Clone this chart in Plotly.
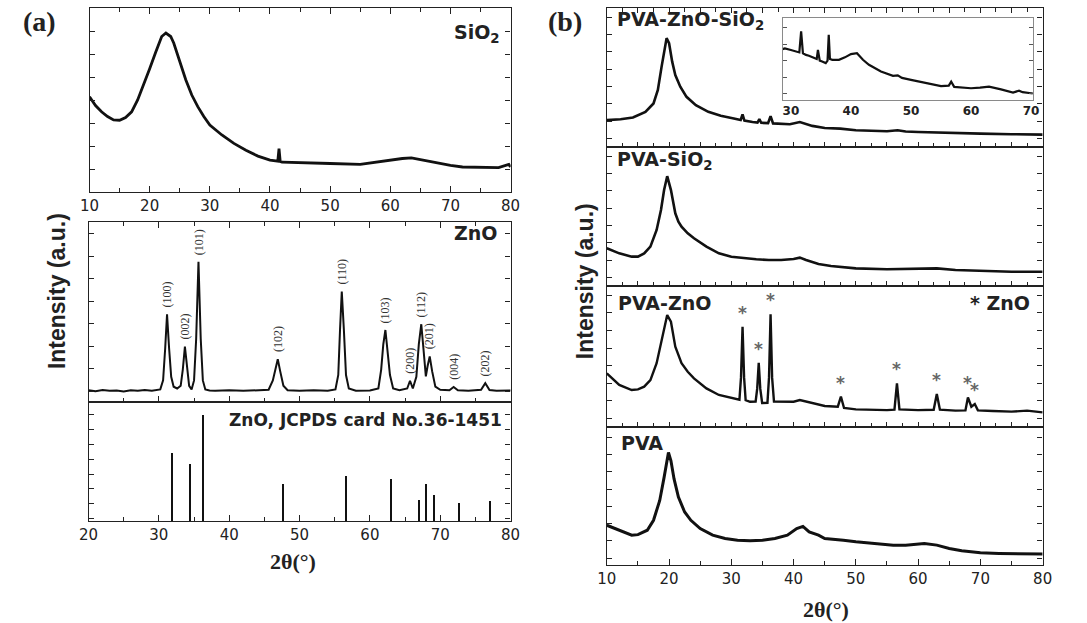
import plotly.graph_objects as go

W, H = 1087, 623

# ---------------- panel (a): SiO2 ----------------
sio2_x = [10, 11, 12, 13, 14, 15, 16, 17, 18, 19, 20, 21, 22, 22.7, 23.5, 24, 25, 26, 27, 28,
          29, 30, 32, 34, 36, 38, 40, 41.3, 41.5, 41.7, 42, 45, 50, 55, 58, 60, 62, 63.5, 65, 67,
          70, 72, 75, 78, 79.7, 80]
sio2_y = [51.8, 47, 43.6, 41, 39.2, 39, 40.5, 43.6, 50, 58, 67, 76, 84.5, 86.4, 84.5, 81, 71, 61, 52.7, 46.4,
          41, 36.4, 31, 26.4, 22.7, 19.5, 17.3, 16.8, 23.6, 16.6, 16.2, 15.8, 15.5, 15, 16.4, 17.3, 18.2, 18.5, 17.6, 16,
          14.5, 13.6, 13.3, 13.3, 15, 13.6]

# ---------------- panel (a): ZnO ----------------
zno_x = [20, 21, 22, 23, 24, 25, 26, 27, 28, 29, 30.2, 30.6, 30.9, 31.16, 31.45, 31.75, 32.1, 32.6, 33.1, 33.4,
         33.7, 34.0, 34.3, 34.65, 35.0, 35.3, 35.63, 35.95, 36.25, 36.6, 37.2, 38, 40, 42, 44, 45.6, 46.2, 46.6, 46.9, 47.25,
         47.7, 48.3, 50, 52, 54, 55.1, 55.5, 55.75, 56.0, 56.3, 56.6, 57.0, 58, 60, 61.2, 61.6, 61.9, 62.2, 62.5, 62.85,
         63.3, 64.2, 65.3, 65.7, 66.1, 66.6, 66.95, 67.3, 67.6, 67.95, 68.2, 68.5, 68.85, 69.3, 70, 71.3, 71.9, 72.5, 74, 75.8,
         76.4, 77.0, 78, 80]
zno_y = [6.5, 6.0, 6.6, 6.2, 6.4, 5.9, 6.5, 6.2, 6.6, 6.3, 7.0, 12, 30, 48.7, 30, 14, 8.5, 7.5, 9, 18,
         30.8, 18, 9, 7.0, 12, 35, 77.9, 35, 12, 7.0, 6.4, 6.2, 6.5, 6.2, 6.6, 6.8, 12, 19, 23.8, 17,
         9, 6.5, 6.3, 6.5, 6.2, 7.0, 15, 40, 61.3, 40, 15, 7.5, 6.3, 6.4, 7.5, 18, 32, 40, 30, 15,
         7.5, 6.5, 7.5, 11.8, 7.5, 14, 32, 43.2, 30, 14.2, 20, 25.3, 17, 8.5, 6.8, 6.5, 8.3, 6.5, 6.3, 6.8,
         10.5, 6.7, 6.3, 6.4]
zno_hkl = ["(100)", "(002)", "(101)", "(102)", "(110)", "(103)", "(200)", "(112)", "(201)", "(004)", "(202)"]
zno_hkl_x = [31.16, 33.7, 35.63, 46.9, 56.0, 62.2, 65.7, 67.3, 68.5, 71.9, 76.4]

# ---------------- panel (a): JCPDS 36-1451 reference lines ----------------
jcpds_x = [31.8, 34.4, 36.3, 47.6, 56.6, 62.9, 66.9, 68.0, 69.1, 72.6, 77.0]
jcpds_i = [56.8, 47.5, 89, 31.4, 38, 35.6, 17.8, 31.4, 22, 15.3, 17]

# ---------------- panel (b) ----------------
pzs_x = [10, 12.2, 14.2, 16.2, 17.5, 18.2, 18.8, 19.3, 19.6, 20.0, 20.5, 21.0, 21.8, 22.8, 24.3, 26.3, 28.3, 30.4, 31.5, 31.8,
         32.1, 33.4, 34.2, 34.5, 34.8, 35.9, 36.3, 36.7, 37.4, 39.4, 41, 43, 45, 47.5, 50, 55, 56.7, 58, 60, 63,
         65, 70, 75, 80]
pzs_y = [19.3, 20, 21.2, 25.3, 31.3, 41, 57.8, 72.3, 78.3, 74.7, 61.4, 51.8, 43.4, 36.1, 30.1, 25.3, 22.4, 20.5, 19.5, 23.5,
         19, 18, 17.6, 20, 17.4, 17.2, 22.2, 17, 16.9, 16.4, 18, 15.2, 13.7, 13.2, 12, 11.3, 12.0, 11.1, 10.8, 10.6,
         10.1, 9.6, 9.2, 8.9]

inset_x = [28.6, 29, 30, 31, 31.4, 31.7, 32.0, 32.5, 33, 34, 34.3, 34.5, 34.8, 35.2, 35.8, 36.1, 36.3, 36.5, 36.9, 38,
           39, 40, 41, 42, 43, 45, 47, 47.8, 48.5, 50, 52, 55, 56.3, 56.7, 57.2, 58, 60, 61.5, 63, 65,
           67, 68, 68.6, 70, 70.3]
inset_y = [62, 63, 61, 59, 58, 83.7, 57, 55, 54, 51, 50, 61, 48, 47, 45, 48, 79.6, 50, 49, 49,
           52, 56, 57, 49, 43, 34.7, 29.4, 30, 27, 24.5, 21.6, 17, 17.5, 22.4, 16, 15.5, 14.3, 15, 16.3, 13,
           9, 11.4, 9.5, 8.2, 8.0]

ps_x = [10, 12, 14, 15, 16, 17, 18, 18.7, 19.2, 19.7, 20.3, 21, 21.5, 22, 23, 24, 26, 28, 30, 32,
        34, 36, 38, 40, 41, 42, 44, 46, 50, 55, 60, 63, 66, 70, 75, 80]
ps_y = [27.1, 23.5, 21.1, 21.1, 23.5, 28.3, 40.3, 54.7, 69, 79, 69, 52.3, 46.3, 42.7, 37.9, 34.3, 28.3, 23.5, 21.1, 19.9,
        19.2, 18.7, 18.7, 19.4, 20.4, 18.7, 15.8, 14.4, 12.7, 12, 12.5, 12.7, 11.5, 10.8, 10.3, 10.3]

pz_x = [10, 12, 14, 15, 16, 17, 18, 19, 19.7, 20.3, 21, 22, 23, 24, 26, 28, 30, 31.3, 31.55, 31.8,
        32.05, 32.3, 33.0, 33.9, 34.15, 34.4, 34.65, 34.95, 35.8, 36.05, 36.3, 36.55, 36.85, 38, 40, 41, 43, 45, 47.1, 47.6,
        48.1, 50, 55, 56.2, 56.6, 57.0, 60, 62.5, 63.0, 63.5, 66, 67.6, 68.0, 68.55, 69.1, 69.6, 72, 75, 77.5, 80]
pz_y = [38, 29.8, 26.2, 26.7, 28.6, 33.3, 45.2, 66.5, 79.4, 74.7, 57, 45.2, 39.2, 34.5, 27.4, 22.7, 20.4, 19.3, 35, 71.1,
        35, 19, 17.9, 18, 27, 45.6, 27, 17, 17.2, 35, 79.9, 35, 18, 17.9, 17.9, 19.1, 16.8, 14.9, 14.4, 21.5,
        13.5, 12.5, 12, 12.3, 31, 12.5, 12, 12.2, 23.4, 12.3, 11.6, 11.8, 21, 14.4, 16.3, 11.8, 11.3, 10.9, 11.6, 10.4]
pz_star_x = [31.8, 34.4, 36.3, 47.6, 56.6, 63.0, 68.0, 69.1]

pva_x = [10, 11, 12.5, 14, 15, 16.5, 17.5, 18.5, 19.2, 19.6, 19.9, 20.3, 20.8, 21.5, 22.5, 23.5, 25, 27, 29, 31,
         33, 35, 37, 39, 40.5, 41.5, 42.5, 44, 45, 48, 50, 53, 56, 58, 61, 63, 65, 67, 70, 73,
         76, 78, 80]
pva_y = [28.8, 27, 24.5, 21.6, 22, 25.2, 32.4, 46.8, 63.5, 75.5, 81.5, 75.5, 62.4, 49.2, 38.4, 32.4, 26.4, 21.6, 19.2, 18,
         17.5, 18, 19.2, 21.6, 26.4, 28, 24, 21.6, 19.2, 18, 16.8, 15.6, 14.4, 14.4, 15.6, 14.4, 12, 10.3, 8.9, 8.4,
         8.4, 8.4, 7.9]

# ---------------- styling ----------------
LC = "#222222"
CURVE = "#111111"
SANS = "DejaVu Sans"
SERIF = "Liberation Serif"


def xdom(a, b):
    return [a / W, b / W]


def ydom(top, bot):
    return [1 - bot / H, 1 - top / H]


def P(px, py):
    return px / W, 1 - py / H


def xaxis(dom, rng, anchor, mirror, labels, dtick, mdtick, tlen=6):
    return dict(domain=dom, range=rng, anchor=anchor, showline=True, linecolor=LC, linewidth=1.4,
                mirror=mirror, showgrid=False, zeroline=False, ticks="inside", ticklen=tlen,
                tickwidth=1.3, tickcolor=LC, dtick=dtick, tick0=0, showticklabels=labels,
                tickfont=dict(family=SANS, size=15, color=LC),
                minor=dict(ticks="inside", dtick=mdtick, ticklen=3.5, tickwidth=1.2, tickcolor=LC))


def yaxis(dom, anchor, tick0):
    return dict(domain=dom, range=[0, 100], anchor=anchor, showline=True, linecolor=LC, linewidth=1.4,
                mirror="ticks", showgrid=False, zeroline=False, ticks="inside", ticklen=5,
                tickwidth=1.3, tickcolor=LC, tick0=tick0, dtick=12.5, showticklabels=False)


fig = go.Figure()


def line(x, y, ax, width=2.0):
    fig.add_trace(go.Scatter(x=x, y=y, mode="lines", xaxis="x" + ax, yaxis="y" + ax,
                             line=dict(color=CURVE, width=width), hoverinfo="skip"))


line(sio2_x, sio2_y, "", 2.8)
line(zno_x, zno_y, "2", 2.0)
fig.add_trace(go.Bar(x=jcpds_x, y=jcpds_i, width=0.22, xaxis="x3", yaxis="y3",
                     marker=dict(color=CURVE, line=dict(width=0)), hoverinfo="skip"))
line(pzs_x, pzs_y, "4", 2.6)
line(ps_x, ps_y, "5", 2.6)
line(pz_x, pz_y, "6", 2.4)
line(pva_x, pva_y, "7", 3.0)
line(inset_x, inset_y, "8", 2.2)

layout = dict(
    width=W, height=H, margin=dict(l=0, r=0, t=0, b=0),
    paper_bgcolor="white", plot_bgcolor="white", showlegend=False, bargap=0,
    xaxis=xaxis(xdom(81, 510), [10, 80], "y", "ticks", True, 10, 5),
    yaxis=yaxis(ydom(8, 192), "x", 0),
    xaxis2=xaxis(xdom(80, 510), [20, 80], "y2", "ticks", False, 10, 5),
    yaxis2=yaxis(ydom(222, 402), "x2", 6),
    xaxis3=xaxis(xdom(80, 510), [20, 80], "y3", True, True, 10, 5),
    yaxis3=yaxis(ydom(402, 521), "x3", 2),
    xaxis4=xaxis(xdom(608, 1052), [10, 80], "y4", "ticks", False, 5, 2.5, 5),
    yaxis4=yaxis(ydom(8, 147), "x4", 6),
    xaxis5=xaxis(xdom(608, 1052), [10, 80], "y5", True, False, 5, 2.5, 5),
    yaxis5=yaxis(ydom(147, 286), "x5", 6),
    xaxis6=xaxis(xdom(608, 1052), [10, 80], "y6", True, False, 5, 2.5, 5),
    yaxis6=yaxis(ydom(286, 427), "x6", 6),
    xaxis7=xaxis(xdom(608, 1052), [10, 80], "y7", True, True, 10, 5),
    yaxis7=yaxis(ydom(427, 565), "x7", 5),
    xaxis8=dict(domain=xdom(787, 1042), range=[28.6, 70.3], anchor="y8", showline=True,
                linecolor="#8a8a8a", linewidth=1, mirror=True, showgrid=False, zeroline=False,
                ticks="", dtick=10, tick0=0,
                tickfont=dict(family=SANS, size=12, color=LC, weight="bold")),
    yaxis8=dict(domain=ydom(18, 100), range=[0, 100], anchor="x8", showline=True,
                linecolor="#8a8a8a", linewidth=1, mirror="ticks", showgrid=False, zeroline=False,
                ticks="inside", ticklen=4, tickwidth=1, tickcolor="#555", tick0=8, dtick=20,
                showticklabels=False),
)
fig.update_layout(**layout)

ann = []


def text(px, py, s, size, family=SANS, bold=True, xanchor="center", color=LC, angle=0):
    x, y = P(px, py)
    ann.append(dict(x=x, y=y, xref="paper", yref="paper", text=s, showarrow=False,
                    xanchor=xanchor, yanchor="middle", textangle=angle,
                    font=dict(family=family, size=size, color=color,
                              weight="bold" if bold else "normal")))


# panel letters
text(30, 22, "(a)", 28, SERIF)
text(565, 22, "(b)", 28, SERIF)

# panel (a) labels
text(501, 33, "SiO<sub>2</sub>", 19, xanchor="right")
text(498, 233, "ZnO", 19, xanchor="right")
text(503, 420, "ZnO, JCPDS card No.36-1451", 17, xanchor="right")
text(48, 291, "Intensity (a.u.)", 23, "Liberation Sans", angle=-90)
text(288, 561, "2θ(°)", 22, SERIF)

# panel (b) labels
text(616, 21, "PVA-ZnO-SiO<sub>2</sub>", 19, xanchor="left")
text(616, 161, "PVA-SiO<sub>2</sub>", 19, xanchor="left")
text(617, 303, "PVA-ZnO", 19, xanchor="left")
text(1041, 303, "* ZnO", 19, xanchor="right")
text(620, 443, "PVA", 19, xanchor="left")
text(586, 281, "Intensity (a.u.)", 23, "Liberation Sans", angle=-90)
text(831, 609, "2θ(°)", 22, SERIF)

# Miller indices above the ZnO reflections
for hkl, hx in zip(zno_hkl, zno_hkl_x):
    hy = zno_y[zno_x.index(hx)]
    ann.append(dict(x=hx, y=hy, xref="x2", yref="y2", text=hkl, showarrow=False,
                    textangle=-90, xanchor="center", yanchor="middle", yshift=20,
                    font=dict(family=SERIF, size=12, color="#333")))

# asterisks marking ZnO reflections in PVA-ZnO
for sx in pz_star_x:
    sy = pz_y[pz_x.index(sx)]
    ann.append(dict(x=sx, y=sy, xref="x6", yref="y6", text="*", showarrow=False,
                    xanchor="center", yanchor="middle", yshift=14,
                    font=dict(family=SANS, size=17, color="#666666", weight="bold")))

fig.update_layout(annotations=ann)
fig.write_html("out.html")
